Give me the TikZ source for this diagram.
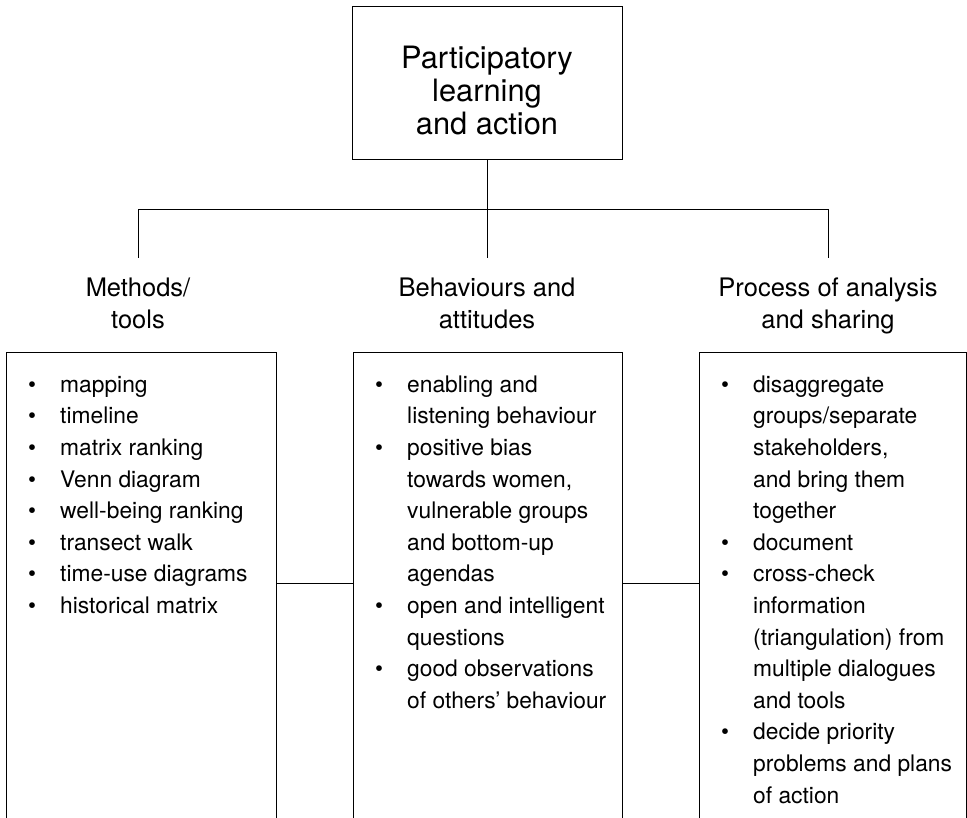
\documentclass[tikz,border=0pt]{standalone}
\usepackage{fontspec}
\setmainfont{TeX Gyre Heros}
\usetikzlibrary{positioning}

\begin{document}
\begin{tikzpicture}[x=1pt,y=-1pt,
 wire/.style={line width=1pt},
 headbox/.style={draw,line width=1pt,minimum width=270pt,minimum height=153pt,inner sep=0pt},
 headtext/.style={yshift=-7pt,align=center,inner sep=0pt,font=\fontsize{30.8}{33}\selectfont},
 branch/.style={anchor=base,align=center,inner xsep=0pt,inner ysep=20pt,font=\fontsize{25.5}{32.5}\selectfont},
 listbox/.style={draw,line width=1pt,anchor=north west,minimum height=520pt,inner sep=0pt},
 items/.style={inner sep=0pt,font=\fontsize{22.8}{31.6}\selectfont}]
\useasboundingbox (0,0) rectangle (967,818);
\node[headbox,label={[headtext]center:Participatory\\learning\\and action}] (plan) at (487,83.5) {};
\coordinate (bus) at (487,210);
\coordinate (mid) at (0,583);
\node[branch] (methods) at (138,329) {Methods/\\tools};
\node[branch] (behav) at (487,329) {Behaviours and\\attitudes};
\node[branch] (process) at (828,329) {Process of analysis\\and sharing};
\draw[wire] (plan.south) -- (behav.north);
\draw[wire] (methods.north) -- (methods.north |- bus) -- (process.north |- bus) -- (process.north);
\node[listbox,minimum width=270pt] (toolsbox) at (6,352) {};
\node[listbox,minimum width=269pt] (behavbox) at (353,352) {};
\node[listbox,minimum width=266.5pt] (processbox) at (699,352) {};
\node[items,below right=18pt and 22pt of toolsbox.north west] (toolslist) {\begin{tabular}{@{}p{32pt}@{}l@{}}
\textbullet & mapping\\
\textbullet & timeline\\
\textbullet & matrix ranking\\
\textbullet & Venn diagram\\
\textbullet & well-being ranking\\
\textbullet & transect walk\\
\textbullet & time-use diagrams\\
\textbullet & historical matrix
\end{tabular}};
\node[items,below right=18pt and 22pt of behavbox.north west] (behavlist) {\begin{tabular}{@{}p{32pt}@{}l@{}}
\textbullet & enabling and\\
 & listening behaviour\\
\textbullet & positive bias\\
 & towards women,\\
 & vulnerable groups\\
 & and bottom-up\\
 & agendas\\
\textbullet & open and intelligent\\
 & questions\\
\textbullet & good observations\\
 & of others' behaviour
\end{tabular}};
\node[items,below right=18pt and 22pt of processbox.north west] (processlist) {\begin{tabular}{@{}p{32pt}@{}l@{}}
\textbullet & disaggregate\\
 & groups/separate\\
 & stakeholders,\\
 & and bring them\\
 & together\\
\textbullet & document\\
\textbullet & cross-check\\
 & information\\
 & (triangulation) from\\
 & multiple dialogues\\
 & and tools\\
\textbullet & decide priority\\
 & problems and plans\\
 & of action
\end{tabular}};
\draw[wire] (toolsbox.east |- mid) -- (behavbox.west |- mid);
\draw[wire] (behavbox.east |- mid) -- (processbox.west |- mid);
\end{tikzpicture}
\end{document}
